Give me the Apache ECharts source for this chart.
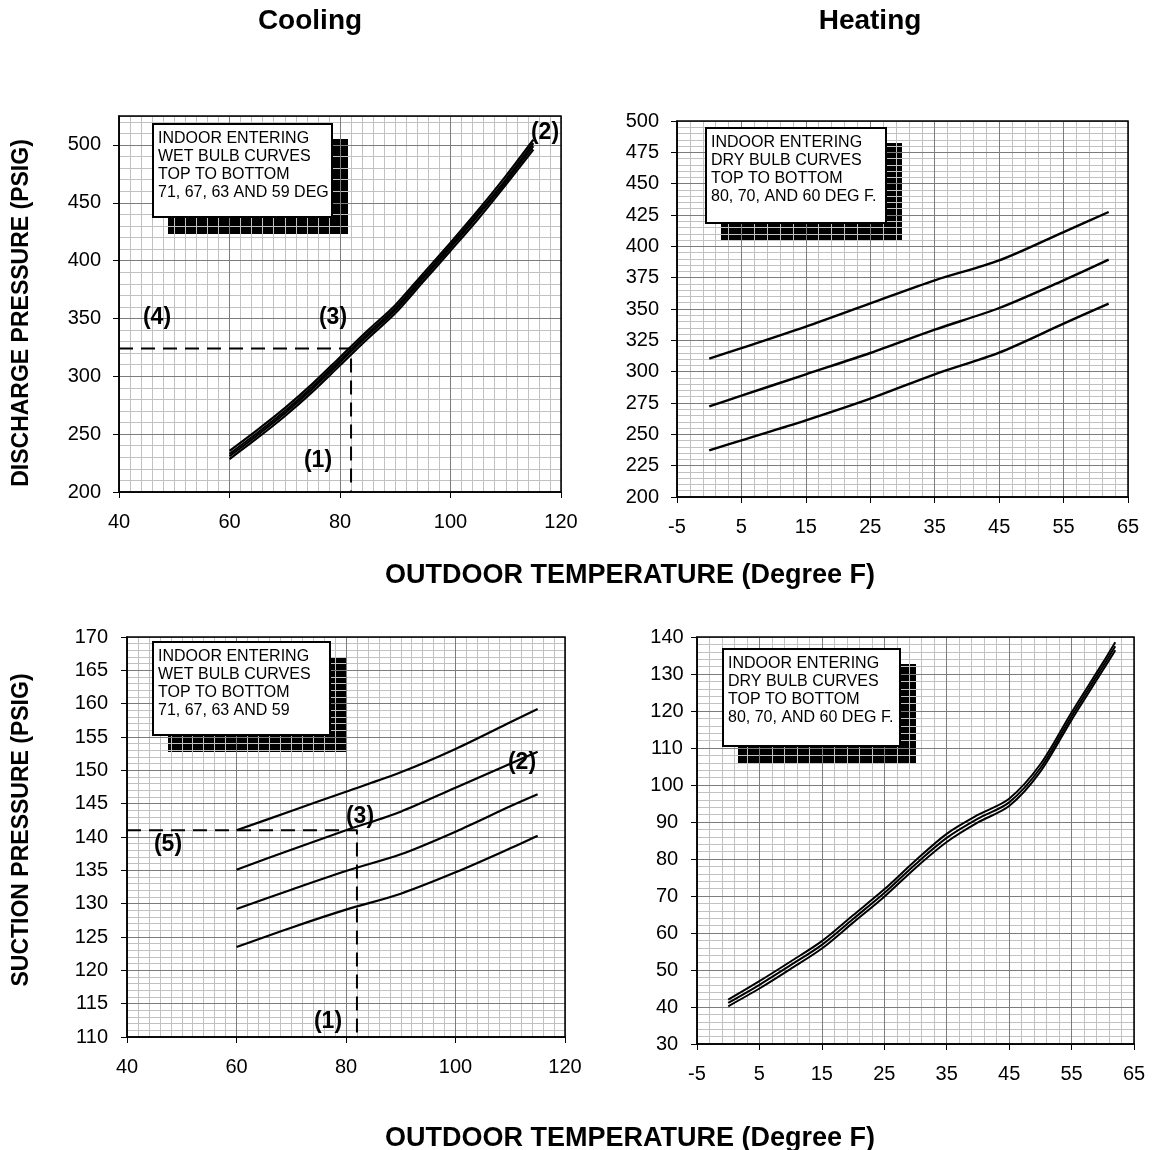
<!DOCTYPE html>
<html>
<head>
<meta charset="utf-8">
<title>Cooling / Heating pressure curves</title>
<script src="https://cdn.jsdelivr.net/npm/echarts@6/dist/echarts.min.js"></script>
<style>
  html, body { margin: 0; padding: 0; background: #fff; }
  #main { width: 1160px; height: 1150px; }
</style>
</head>
<body>
<div id="main"></div>
<script>
// cooling - discharge pressure, wet bulb curves 71 / 67 / 63 / 59
var coolDisTemp = [60, 65, 70, 75, 80, 85, 90, 95, 100, 105, 110, 115];
var coolDis71 = [235.5, 253.5, 272.5, 293.5, 316.5, 339.5, 361.5, 388.5, 415.5, 443.5, 473, 504.5];
var coolDis67 = [233, 251, 270, 291, 314, 337, 359, 386, 413, 441, 470, 501.5];
var coolDis63 = [231, 249, 268, 289, 312, 335, 357, 384, 411, 439, 468, 499];
var coolDis59 = [228.5, 246.5, 265.5, 286.5, 309.5, 332.5, 354.5, 381.5, 408.5, 436, 465.5, 496];

// cooling - suction pressure
var coolSucTemp = [60, 70, 80, 90, 100, 110, 115];
var coolSuc71 = [141, 143.9, 146.8, 149.7, 153.2, 157.2, 159.2];
var coolSuc67 = [135.1, 138.1, 141.0, 143.8, 147.4, 151.0, 152.8];
var coolSuc63 = [129.2, 132.1, 134.9, 137.4, 140.8, 144.6, 146.4];
var coolSuc59 = [123.5, 126.4, 129.1, 131.5, 134.7, 138.3, 140.2];

// heating - discharge pressure, dry bulb 80 / 70 / 60
var heatDisTemp = [0, 5, 15, 25, 35, 45, 55, 62];
var heatDis80 = [310.4, 318.8, 336, 354.5, 372.9, 388.8, 411.4, 427.4];
var heatDis70 = [272.3, 280.8, 297.9, 314.9, 333.5, 350.8, 372.9, 389.4];
var heatDis60 = [237.2, 245.2, 261.2, 278.5, 297.9, 315.2, 338.3, 354.3];

// heating - suction pressure
var heatSucTemp = [0, 5, 10, 15, 20, 25, 30, 35, 40, 45, 50, 55, 60, 62];
var heatSuc80 = [42, 47, 52.3, 57.8, 64.8, 71.8, 79.6, 86.8, 91.9, 96.3, 105.6, 119.6, 133, 138.6];
var heatSuc70 = [41.1, 46, 51.3, 56.8, 63.8, 70.8, 78.6, 85.7, 90.9, 95.3, 104.6, 118.6, 132, 137.5];
var heatSuc60 = [40.2, 45, 50.3, 55.8, 62.8, 69.8, 77.6, 84.6, 89.9, 94.3, 103.6, 117.6, 131, 136.4];

// worked example (dashed guide lines)
var exDisLine = [[40, 324], [82, 324], [82, 200]];
var exSucLine = [[40, 141], [82, 141], [82, 110]];

// axis ranges: [min, max, major step, minor step]
var xCool = [40, 120, 20, 2];
var xHeat = [-5, 65, 10, 2];
var yCoolDis = [200, 525, 50, 10];
var yHeatDis = [200, 500, 25, 5];
var yCoolSuc = [110, 170, 5, 1];
var yHeatSuc = [30, 140, 10, 2];

var FONT = '"Liberation Sans", Arial, Helvetica, sans-serif';
var MAJOR = '#7c7c7c';
var MINOR = '#c2c2c2';

var panels = [
    { grid: { left: 119, top: 116, width: 442, height: 376 }, x: xCool, y: yCoolDis, yAlign: 'right', yMargin: 18 },
    { grid: { left: 677, top: 121, width: 451, height: 376 }, x: xHeat, y: yHeatDis, yAlign: 'right', yMargin: 18 },
    { grid: { left: 127, top: 637, width: 438, height: 400 }, x: xCool, y: yCoolSuc, yAlign: 'right', yMargin: 19 },
    { grid: { left: 697, top: 637, width: 437, height: 407 }, x: xHeat, y: yHeatSuc, yAlign: 'center', yMargin: 30 }
];

var grids = [], xAxes = [], yAxes = [];
panels.forEach(function (p, i) {
    grids.push(Object.assign({ show: true, borderColor: '#000', borderWidth: 1.5, backgroundColor: 'rgba(0,0,0,0)', z: 3 }, p.grid));
    // major axis (labels, ticks, dark grid)
    xAxes.push({
        gridIndex: i, type: 'value', min: p.x[0], max: p.x[1], interval: p.x[2], z: 2,
        axisLine: { show: true, onZero: false, lineStyle: { color: '#000', width: 1.5 } },
        axisTick: { show: true, length: 6, lineStyle: { color: '#000' } },
        axisLabel: { color: '#000', fontSize: 20, fontFamily: FONT, margin: 20 },
        splitLine: { show: true, lineStyle: { color: MAJOR, width: 1 } }
    });
    // minor grid only
    xAxes.push({
        gridIndex: i, type: 'value', min: p.x[0], max: p.x[1], interval: p.x[3], z: 1,
        axisLine: { show: false }, axisTick: { show: false }, axisLabel: { show: false },
        splitLine: { show: true, lineStyle: { color: MINOR, width: 1 } }
    });
    yAxes.push({
        gridIndex: i, type: 'value', min: p.y[0], max: p.y[1], interval: p.y[2], z: 2,
        axisLine: { show: true, onZero: false, lineStyle: { color: '#000', width: 1.5 } },
        axisTick: { show: true, length: 6, lineStyle: { color: '#000' } },
        axisLabel: { color: '#000', fontSize: 20, fontFamily: FONT, margin: p.yMargin, align: p.yAlign, showMaxLabel: p.y[1] % p.y[2] === 0 },
        splitLine: { show: true, lineStyle: { color: MAJOR, width: 1 } }
    });
    yAxes.push({
        gridIndex: i, type: 'value', min: p.y[0], max: p.y[1], interval: p.y[3], z: 1,
        axisLine: { show: false }, axisTick: { show: false }, axisLabel: { show: false },
        splitLine: { show: true, lineStyle: { color: MINOR, width: 1 } }
    });
});

function pairs(xs, ys) {
    return xs.map(function (x, k) { return [x, ys[k]]; });
}

function curve(name, panel, xs, ys, width) {
    return {
        name: name, type: 'line', xAxisIndex: panel * 2, yAxisIndex: panel * 2,
        data: pairs(xs, ys), smooth: 0.3, showSymbol: false, silent: true, z: 5,
        lineStyle: { color: '#000', width: width }
    };
}

function dashed(name, panel, pts) {
    return {
        name: name, type: 'line', xAxisIndex: panel * 2, yAxisIndex: panel * 2,
        data: pts, showSymbol: false, silent: true, z: 4,
        lineStyle: { color: '#000', width: 2, type: [14, 8] }
    };
}

var series = [
    curve('71', 0, coolDisTemp, coolDis71, 2.2),
    curve('67', 0, coolDisTemp, coolDis67, 2.2),
    curve('63', 0, coolDisTemp, coolDis63, 2.2),
    curve('59', 0, coolDisTemp, coolDis59, 2.2),
    curve('80', 1, heatDisTemp, heatDis80, 2.4),
    curve('70', 1, heatDisTemp, heatDis70, 2.4),
    curve('60', 1, heatDisTemp, heatDis60, 2.4),
    curve('71', 2, coolSucTemp, coolSuc71, 2.2),
    curve('67', 2, coolSucTemp, coolSuc67, 2.2),
    curve('63', 2, coolSucTemp, coolSuc63, 2.2),
    curve('59', 2, coolSucTemp, coolSuc59, 2.2),
    curve('80', 3, heatSucTemp, heatSuc80, 2),
    curve('70', 3, heatSucTemp, heatSuc70, 2),
    curve('60', 3, heatSucTemp, heatSuc60, 2),
    dashed('example', 0, exDisLine),
    dashed('example', 2, exSucLine)
];

// legend boxes with their black drop shadows
function noteBox(x, y, w, h, lines) {
    return [
        { type: 'rect', z: 0, shape: { x: x + 15, y: y + 15, width: w + 1, height: h + 2 }, style: { fill: '#000' } },
        { type: 'rect', z: 6, shape: { x: x, y: y, width: w, height: h }, style: { fill: '#fff', stroke: '#000', lineWidth: 2 } },
        { type: 'text', z: 7, x: x + 5, y: y + 5, style: { text: lines.join('\n'), fontSize: 16, lineHeight: 18.3, fontFamily: FONT, fill: '#000', align: 'left', verticalAlign: 'top' } }
    ];
}

function tag(text, x, y) {
    return { type: 'text', z: 7, x: x, y: y, style: { text: text, fontSize: 23, fontWeight: 'bold', fontFamily: FONT, fill: '#000', align: 'center', verticalAlign: 'middle' } };
}

function heading(text, x, y, size, rot) {
    return { type: 'text', z: 7, x: x, y: y, rotation: rot || 0, style: { text: text, fontSize: size, fontWeight: 'bold', fontFamily: FONT, fill: '#000', align: 'center', verticalAlign: 'middle' } };
}

var graphics = [].concat(
    noteBox(153, 124, 179, 93, ['INDOOR ENTERING', 'WET BULB CURVES', 'TOP TO BOTTOM', '71, 67, 63 AND 59 DEG']),
    noteBox(706, 128, 180, 95, ['INDOOR ENTERING', 'DRY BULB CURVES', 'TOP TO BOTTOM', '80, 70, AND 60 DEG F.']),
    noteBox(153, 642, 177, 93, ['INDOOR ENTERING', 'WET BULB CURVES', 'TOP TO BOTTOM', '71, 67, 63 AND 59']),
    noteBox(723, 649, 177, 97, ['INDOOR ENTERING', 'DRY BULB CURVES', 'TOP TO BOTTOM', '80, 70, AND 60 DEG F.']),
    [
        heading('Cooling', 310, 21, 28),
        heading('Heating', 870, 21, 28),
        heading('OUTDOOR TEMPERATURE (Degree F)', 630, 576, 27),
        heading('OUTDOOR TEMPERATURE (Degree F)', 630, 1139, 27),
        heading('DISCHARGE PRESSURE (PSIG)', 22, 313, 23, Math.PI / 2),
        heading('SUCTION PRESSURE (PSIG)', 22, 830, 23, Math.PI / 2),
        tag('(4)', 157, 318),
        tag('(3)', 333, 318),
        tag('(2)', 545, 133),
        tag('(1)', 318, 461),
        tag('(5)', 168, 845),
        tag('(3)', 360, 817),
        tag('(2)', 522, 763),
        tag('(1)', 328, 1022)
    ]
);

var chart = echarts.init(document.getElementById('main'), null, { renderer: 'canvas' });
chart.setOption({
    animation: false,
    backgroundColor: '#fff',
    textStyle: { fontFamily: FONT },
    grid: grids,
    xAxis: xAxes,
    yAxis: yAxes,
    series: series,
    graphic: { elements: graphics }
});
</script>
</body>
</html>
